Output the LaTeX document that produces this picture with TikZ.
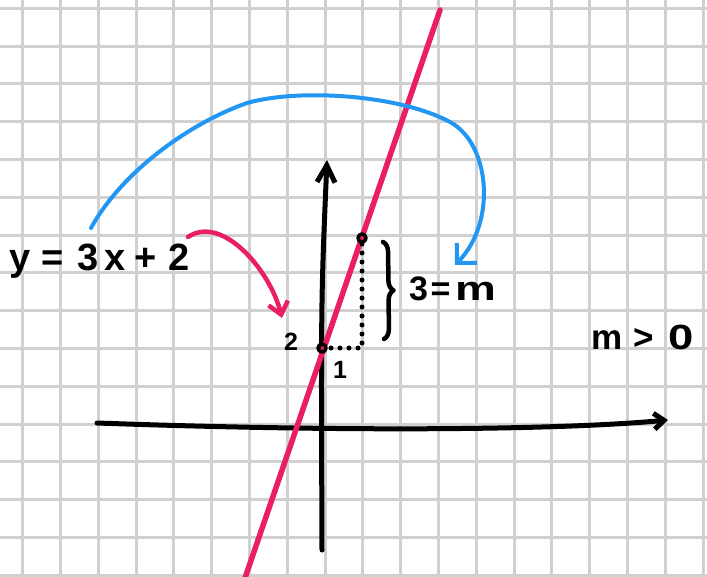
\documentclass[tikz,border=0pt]{standalone}
\usepackage{fontspec}
\setmainfont{Liberation Sans}
\usetikzlibrary{arrows.meta,decorations.pathreplacing}
\definecolor{gridgray}{RGB}{208,208,208}
\definecolor{pinkline}{RGB}{233,30,99}
\definecolor{bluearc}{RGB}{33,150,243}
\begin{document}
\begin{tikzpicture}[x=1pt,y=-1pt,line cap=round,line join=round,
  gridline/.style={draw=gridgray,line width=3pt,line cap=butt},
  ink/.style={draw=black,line width=5pt},
  pinkstroke/.style={draw=pinkline,line width=5.5pt},
  bluestroke/.style={draw=bluearc,line width=4pt},
  dotline/.style={draw=black,line width=5pt,dash pattern=on 0pt off 9pt},
  bigtxt/.style={font=\bfseries\fontsize{38}{42}\selectfont,inner sep=0pt,anchor=base west},
  midtxt/.style={font=\bfseries\fontsize{34}{38}\selectfont,inner sep=0pt,anchor=base west},
  smalltxt/.style={font=\bfseries\fontsize{25}{28}\selectfont,inner sep=0pt,anchor=base}]
\useasboundingbox (0,0) rectangle (707,576);
\fill[white] (0,0) rectangle (707,576);
% grid
\foreach \i in {0,...,18} \draw[gridline] ({22.7+37.8*\i},0) -- ({22.7+37.8*\i},576);
\foreach \j in {0,...,15} \draw[gridline] (0,{8.3+37.8*\j}) -- (707,{8.3+37.8*\j});
% axes
\coordinate (ybot) at (322,550);
\coordinate (ytop) at (327,160);
\coordinate (xleft) at (97,423);
\coordinate (xright) at (668,420);
\draw[ink,-{Straight Barb[length=17pt,width=18pt]}] (ybot) .. controls (321,300) .. (ytop);
\draw[ink,-{Straight Barb[length=10pt,width=16pt]}] (xleft) .. controls (350,432) and (560,430) .. (xright);
% pink line y = 3x + 2
\coordinate (lbot) at (245,578);
\coordinate (ltop) at (440,10);
\draw[pinkstroke] (lbot) -- (ltop);
% slope triangle
\coordinate (o) at (322,348);
\coordinate (p) at (362,348);
\coordinate (q) at (362,238);
\draw[dotline] (o) ++(9,0) -- (p) -- (q);
\draw[black,line width=3.5pt] (o) circle (4);
\draw[black,line width=3.5pt] (q) circle (4);
\draw[ink,line width=4.5pt,decorate,decoration={brace,amplitude=10pt}] (383,242) -- (384,339);
% labels
\node[bigtxt] (eq) at (9,270) {y\hspace{11.3pt}=\hspace{13.3pt}3\hspace{6.3pt}x\hspace{9.3pt}+\hspace{11.3pt}2};
\node[midtxt] (slope) at (409,300) {3\hspace{2.6pt}=\hspace{4.6pt}\scalebox{1.35}[1]{m}};
\node[midtxt,font=\bfseries\fontsize{35}{38}\selectfont] (mpos) at (591.5,349) {m\hspace{11pt}>\hspace{14pt}\scalebox{1.3}[1]{0}};
\node[smalltxt] (two) at (291,350) {2};
\node[smalltxt] (one) at (340,378) {1};
% blue arrow
\coordinate (bs) at (91,228);
\coordinate (be) at (455,265);
\draw[bluestroke,-{Straight Barb[length=14pt,width=28pt]}] (bs) .. controls (120,175) and (185,125) .. (247,103)
  .. controls (300,88) and (400,95) .. (450,122)
  .. controls (490,143.6) and (497,222) .. (be);
% pink arrow
\coordinate (ps) at (188,237);
\coordinate (pe) at (282,318);
\draw[pinkstroke,line width=4.5pt,-{Straight Barb[length=12pt,width=20pt]}] (ps) .. controls (222,214) and (270,270) .. (pe);
\end{tikzpicture}
\end{document}
